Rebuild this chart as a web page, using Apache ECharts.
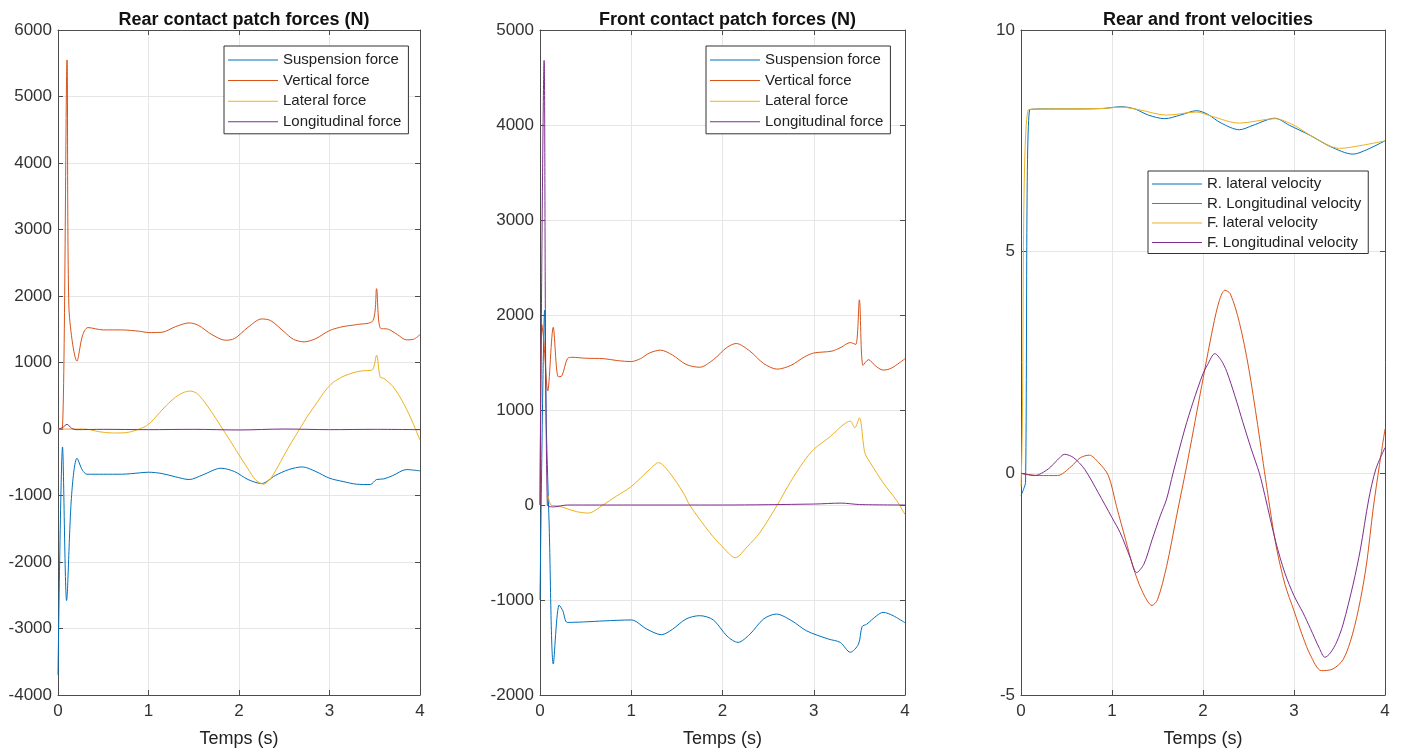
<!DOCTYPE html>
<html><head><meta charset="utf-8">
<script src="https://cdn.jsdelivr.net/npm/echarts@6/dist/echarts.min.js"></script>
<style>html,body{margin:0;padding:0;background:#fff}#c{width:1402px;height:753px}</style>
</head><body><div id="c"></div>
<script>
const titles = ['Rear contact patch forces (N)', 'Front contact patch forces (N)', 'Rear and front velocities'];
const xName = 'Temps (s)';
const forceNames = ['Suspension force', 'Vertical force', 'Lateral force', 'Longitudinal force'];
const velNames = ['R. lateral velocity', 'R. Longitudinal velocity', 'F. lateral velocity', 'F. Longitudinal velocity'];

// Rear contact patch forces [t, N]
const rearSuspension = [[0,-3700],[0.05,-270],[0.095,-2580],[0.15,-1000],[0.21,-440],[0.27,-620],[0.32,-680],[0.5,-680],[0.7,-680],[0.9,-660],[1.0,-650],[1.15,-670],[1.3,-720],[1.45,-760],[1.6,-690],[1.8,-590],[1.95,-640],[2.1,-760],[2.25,-820],[2.4,-700],[2.55,-610],[2.7,-570],[2.85,-640],[3.0,-740],[3.15,-790],[3.3,-830],[3.45,-835],[3.52,-760],[3.6,-750],[3.7,-700],[3.85,-610],[4.0,-630]];
const rearVertical = [[0,0],[0.045,0],[0.1,5550],[0.12,1850],[0.21,1020],[0.27,1400],[0.33,1525],[0.5,1490],[0.7,1490],[0.9,1470],[1.0,1450],[1.15,1455],[1.3,1540],[1.45,1595],[1.55,1560],[1.7,1420],[1.85,1335],[1.95,1360],[2.1,1530],[2.25,1655],[2.35,1630],[2.5,1460],[2.6,1350],[2.72,1310],[2.85,1360],[3.0,1480],[3.15,1540],[3.3,1570],[3.48,1630],[3.52,2110],[3.56,1520],[3.65,1500],[3.75,1420],[3.85,1340],[3.93,1350],[4.0,1420]];
const rearLateral = [[0,0],[0.3,0],[0.45,-40],[0.6,-60],[0.75,-55],[0.9,0],[1.0,70],[1.1,210],[1.2,360],[1.3,480],[1.38,545],[1.46,570],[1.53,540],[1.6,440],[1.7,250],[1.8,40],[1.9,-170],[2.0,-390],[2.1,-600],[2.18,-760],[2.27,-830],[2.34,-760],[2.42,-590],[2.5,-390],[2.58,-200],[2.67,0],[2.76,200],[2.86,395],[2.95,570],[3.04,700],[3.15,790],[3.26,845],[3.36,875],[3.47,885],[3.52,1110],[3.56,780],[3.6,760],[3.7,640],[3.8,430],[3.9,160],[4.0,-170]];
const rearLongitudinal = [[0,0],[0.05,20],[0.1,70],[0.15,10],[0.2,-10],[0.5,-5],[1.0,-10],[1.5,-5],[2.0,-15],[2.5,0],[3.0,-10],[3.5,-5],[4.0,-10]];

// Front contact patch forces [t, N]
const frontSuspension = [[0,-1000],[0.03,1200],[0.05,2050],[0.07,800],[0.1,-200],[0.146,-1674],[0.21,-1054],[0.25,-1113],[0.3,-1236],[0.5,-1230],[0.7,-1220],[1.0,-1210],[1.17,-1306],[1.33,-1365],[1.45,-1310],[1.6,-1200],[1.75,-1165],[1.9,-1210],[2.05,-1380],[2.17,-1446],[2.3,-1360],[2.45,-1200],[2.59,-1148],[2.76,-1219],[2.92,-1324],[3.16,-1411],[3.29,-1446],[3.4,-1550],[3.49,-1465],[3.53,-1280],[3.58,-1255],[3.69,-1165],[3.76,-1130],[3.87,-1165],[4.0,-1240]];
const frontVertical = [[0,0],[0.02,1900],[0.04,1750],[0.085,1200],[0.145,1870],[0.2,1350],[0.24,1360],[0.3,1540],[0.35,1555],[0.5,1545],[0.7,1540],[0.85,1520],[1.0,1510],[1.1,1540],[1.2,1600],[1.32,1630],[1.45,1580],[1.6,1480],[1.75,1450],[1.9,1530],[2.05,1660],[2.15,1700],[2.3,1620],[2.45,1490],[2.6,1430],[2.75,1470],[2.9,1560],[3.0,1600],[3.2,1620],[3.3,1660],[3.4,1710],[3.46,1690],[3.5,2160],[3.54,1470],[3.6,1530],[3.67,1470],[3.76,1420],[3.85,1440],[4.0,1540]];
const frontLateral = [[0.09,100],[0.12,0],[0.2,-10],[0.3,-40],[0.4,-70],[0.53,-85],[0.69,0],[0.84,95],[1.0,194],[1.2,373],[1.3,446],[1.42,340],[1.57,130],[1.64,0],[1.86,-290],[2.0,-440],[2.14,-555],[2.27,-440],[2.41,-290],[2.6,0],[2.74,235],[2.89,457],[3.0,586],[3.18,720],[3.32,842],[3.4,883],[3.45,813],[3.5,918],[3.56,550],[3.62,445],[3.76,235],[3.91,45],[4.0,-100]];
const frontLongitudinal = [[0,0],[0.045,4680],[0.08,0],[0.15,-20],[0.3,0],[1.0,0],[2.0,0],[3.0,10],[3.3,20],[3.5,5],[4.0,0]];

// Velocities [t, m/s]
const rLatVel = [[0,-0.5],[0.03,-0.35],[0.05,-0.2],[0.095,8.2],[0.3,8.22],[0.6,8.22],[0.9,8.23],[1.1,8.27],[1.25,8.22],[1.4,8.08],[1.58,8.0],[1.75,8.08],[1.93,8.18],[2.05,8.1],[2.2,7.9],[2.4,7.75],[2.55,7.85],[2.79,8.01],[2.95,7.85],[3.18,7.62],[3.4,7.37],[3.65,7.2],[3.8,7.3],[4.0,7.5]];
const rLongVel = [[0,0],[0.2,-0.05],[0.4,-0.05],[0.55,0.15],[0.65,0.35],[0.75,0.41],[0.85,0.25],[0.96,-0.05],[1.05,-0.75],[1.15,-1.5],[1.23,-2.1],[1.33,-2.65],[1.44,-2.98],[1.5,-2.85],[1.6,-2.1],[1.71,-0.96],[1.82,0.16],[1.97,1.8],[2.11,3.3],[2.18,3.9],[2.24,4.13],[2.3,4.05],[2.4,3.4],[2.5,2.4],[2.6,1.1],[2.7,-0.3],[2.8,-1.6],[2.9,-2.5],[3.0,-3.1],[3.1,-3.7],[3.18,-4.1],[3.3,-4.45],[3.42,-4.42],[3.54,-4.2],[3.64,-3.65],[3.73,-2.85],[3.8,-2.0],[3.87,-0.8],[3.94,0.2],[4.0,1.0]];
const fLatVel = [[0,-0.3],[0.01,0.5],[0.08,8.2],[0.3,8.22],[0.9,8.23],[1.1,8.26],[1.3,8.2],[1.6,8.08],[1.93,8.15],[2.1,8.05],[2.4,7.9],[2.79,8.0],[3.0,7.85],[3.2,7.6],[3.5,7.33],[3.75,7.4],[4.0,7.5]];
const fLongVel = [[0,0],[0.15,-0.05],[0.3,0.1],[0.4,0.3],[0.48,0.43],[0.58,0.35],[0.7,0.09],[0.85,-0.44],[1.0,-1.0],[1.09,-1.34],[1.2,-1.9],[1.27,-2.24],[1.35,-2.05],[1.44,-1.5],[1.53,-0.96],[1.6,-0.58],[1.67,0],[1.8,1.0],[1.89,1.6],[2.0,2.25],[2.05,2.45],[2.13,2.7],[2.2,2.55],[2.26,2.3],[2.35,1.75],[2.44,1.14],[2.53,0.55],[2.62,0],[2.68,-0.5],[2.8,-1.55],[2.9,-2.25],[3.0,-2.76],[3.1,-3.15],[3.18,-3.5],[3.28,-3.95],[3.34,-4.15],[3.4,-4.05],[3.47,-3.8],[3.54,-3.4],[3.65,-2.5],[3.73,-1.71],[3.82,-0.6],[3.9,0.1],[4.0,0.58]];

const yRanges = [[-4000, 6000, 1000], [-2000, 5000, 1000], [-5, 10, 5]];
const xRange = [0, 4, 1];

const colors = ['#0072BD', '#D95319', '#EDB120', '#7E2F8E'];
const FONT = '"Liberation Sans", Arial, Helvetica, sans-serif';
const grids = [
  {left: 58, top: 30, width: 362, height: 666},
  {left: 540, top: 30, width: 365, height: 666},
  {left: 1021, top: 30, width: 364, height: 666}
];
const panelData = [
  [rearSuspension, rearVertical, rearLateral, rearLongitudinal],
  [frontSuspension, frontVertical, frontLateral, frontLongitudinal],
  [rLatVel, rLongVel, fLatVel, fLongVel]
];
const panelNames = [forceNames, forceNames, velNames];
const legendPos = [
  {left: 224, top: 46, itemGap: 4.6, padding: [6, 7, 4, 4]},
  {left: 706, top: 46, itemGap: 4.6, padding: [6, 7, 4, 4]},
  {left: 1148, top: 171, itemGap: 3.5, padding: [5, 7, 3, 4]}
];
const axisCol = '#4d4d4d';
const gridCol = '#e6e6e6';
const plain = v => String(v);

const xAxes = [], yAxes = [], series = [], legends = [], titleOpts = [];
grids.forEach((g, i) => {
  xAxes.push({type: 'value', gridIndex: i, min: xRange[0], max: xRange[1], interval: xRange[2],
    name: xName, nameLocation: 'middle', nameGap: 35,
    nameTextStyle: {fontSize: 18, color: '#222', fontFamily: FONT},
    axisLine: {show: true, onZero: false, lineStyle: {color: axisCol, width: 1}},
    axisTick: {show: true, inside: true, length: 5, lineStyle: {color: axisCol}},
    axisLabel: {fontSize: 17, color: '#333', margin: 8, fontFamily: FONT, formatter: plain},
    splitLine: {show: true, lineStyle: {color: gridCol, width: 1}}});
  yAxes.push({type: 'value', gridIndex: i, min: yRanges[i][0], max: yRanges[i][1], interval: yRanges[i][2],
    axisLine: {show: true, onZero: false, lineStyle: {color: axisCol, width: 1}},
    axisTick: {show: true, inside: true, length: 5, lineStyle: {color: axisCol}},
    axisLabel: {fontSize: 17, color: '#333', margin: 6, fontFamily: FONT, formatter: plain},
    splitLine: {show: true, lineStyle: {color: gridCol, width: 1}}});
});
grids.forEach((g, i) => {
  xAxes.push({type: 'value', gridIndex: i, position: 'top', min: xRange[0], max: xRange[1], interval: xRange[2],
    axisLine: {show: true, onZero: false, lineStyle: {color: axisCol, width: 1}},
    axisTick: {show: true, inside: true, length: 5, lineStyle: {color: axisCol}},
    axisLabel: {show: false}, splitLine: {show: false}});
  yAxes.push({type: 'value', gridIndex: i, position: 'right', min: yRanges[i][0], max: yRanges[i][1], interval: yRanges[i][2],
    axisLine: {show: true, onZero: false, lineStyle: {color: axisCol, width: 1}},
    axisTick: {show: true, inside: true, length: 5, lineStyle: {color: axisCol}},
    axisLabel: {show: false}, splitLine: {show: false}});
  panelData[i].forEach((d, k) => {
    series.push({type: 'line', name: panelNames[i][k], xAxisIndex: i, yAxisIndex: i, data: d,
      symbol: 'none', smooth: 0.3, color: colors[k],
      lineStyle: {width: 1, color: colors[k]}, emphasis: {disabled: true}, silent: true});
  });
  legends.push({orient: 'vertical', left: legendPos[i].left, top: legendPos[i].top, data: panelNames[i],
    icon: 'rect', itemGap: legendPos[i].itemGap, itemWidth: 50, itemHeight: 1,
    padding: legendPos[i].padding, borderColor: '#333', borderWidth: 1, backgroundColor: '#fff',
    textStyle: {fontSize: 15, color: '#222', fontFamily: FONT, lineHeight: 16}, selectedMode: false});
  titleOpts.push({text: titles[i], left: g.left + g.width / 2, top: 6, textAlign: 'center',
    textStyle: {fontSize: 18, fontWeight: 'bold', color: '#111', fontFamily: FONT}});
});

const chart = echarts.init(document.getElementById('c'), null, {renderer: 'canvas'});
chart.setOption({
  animation: false,
  backgroundColor: '#fff',
  title: titleOpts,
  legend: legends,
  grid: grids.map(g => Object.assign({containLabel: false}, g)),
  xAxis: xAxes,
  yAxis: yAxes,
  series: series
});
</script></body></html>
